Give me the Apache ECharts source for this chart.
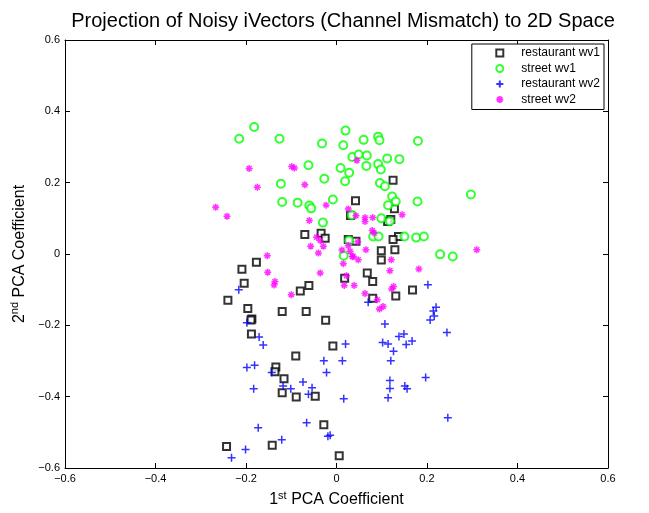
<!DOCTYPE html>
<html>
<head>
    <meta charset="utf-8">
    <script src="https://cdn.jsdelivr.net/npm/echarts@6/dist/echarts.min.js"></script>
</head>
<body style="margin:0">
    <div id="main" style="width: 649px; height: 513px"></div>
    <script type="text/javascript">
        var seriesNames = ['restaurant wv1', 'street wv1', 'restaurant wv2', 'street wv2'];
        var axisTicks = [-0.6, -0.4, -0.2, 0, 0.2, 0.4, 0.6];

        var restaurantWv1 = [
            [-0.070, 0.055], [-0.034, 0.058], [-0.025, 0.044], [0.125, 0.207], [0.042, 0.149],
            [0.128, 0.127], [0.031, 0.108], [0.120, 0.097], [0.113, 0.091], [0.026, 0.041],
            [0.043, 0.036], [0.137, 0.049], [0.125, 0.041], [0.099, 0.009], [0.129, 0.012],
            [-0.177, -0.023], [-0.209, -0.043], [-0.204, -0.082], [-0.240, -0.130], [-0.196, -0.153],
            [-0.120, -0.161], [-0.067, -0.161], [-0.061, -0.088], [-0.080, -0.104], [-0.187, -0.182],
            [-0.189, -0.185], [-0.024, -0.186], [-0.188, -0.224], [-0.090, -0.286], [-0.134, -0.317],
            [-0.136, -0.330], [-0.116, -0.350], [-0.120, -0.389], [-0.089, -0.401], [-0.047, -0.399],
            [-0.028, -0.479], [-0.243, -0.540], [-0.142, -0.536], [-0.008, -0.258], [0.099, -0.017],
            [0.068, -0.053], [0.018, -0.068], [0.080, -0.077], [0.168, -0.101], [0.131, -0.118],
            [0.080, -0.124], [0.006, -0.566]
        ];

        var streetWv1 = [
            [-0.182, 0.356], [-0.215, 0.323], [-0.126, 0.323], [-0.032, 0.310], [-0.062, 0.249],
            [-0.027, 0.211], [-0.123, 0.197], [-0.120, 0.146], [-0.086, 0.144], [-0.060, 0.136],
            [-0.056, 0.128], [-0.030, 0.088], [0.020, 0.346], [0.015, 0.305], [0.060, 0.320],
            [0.092, 0.329], [0.095, 0.319], [0.180, 0.317], [0.035, 0.272], [0.049, 0.279],
            [0.067, 0.276], [0.112, 0.268], [0.139, 0.266], [0.009, 0.241], [0.028, 0.228],
            [0.066, 0.247], [0.092, 0.252], [0.098, 0.237], [0.019, 0.204], [0.096, 0.199],
            [0.107, 0.190], [0.297, 0.167], [-0.008, 0.153], [0.123, 0.161], [0.131, 0.147],
            [0.114, 0.137], [0.179, 0.147], [0.034, 0.109], [0.099, 0.100], [0.118, 0.092],
            [0.081, 0.049], [0.093, 0.049], [0.150, 0.049], [0.176, 0.046], [0.193, 0.049],
            [0.229, -0.001], [0.257, -0.007], [0.028, 0.038], [0.016, -0.005]
        ];

        var restaurantWv2 = [
            [-0.216, -0.100], [-0.198, -0.193], [-0.171, -0.233], [-0.162, -0.255], [-0.198, -0.318],
            [-0.181, -0.312], [-0.143, -0.332], [-0.183, -0.378], [-0.118, -0.370], [-0.101, -0.378],
            [-0.074, -0.359], [-0.054, -0.375], [-0.062, -0.393], [-0.028, -0.299], [-0.022, -0.332],
            [-0.173, -0.487], [-0.066, -0.473], [-0.121, -0.521], [-0.201, -0.548], [-0.232, -0.571],
            [-0.019, -0.511], [-0.014, -0.508], [0.202, -0.086], [0.220, -0.149], [0.214, -0.160],
            [0.216, -0.174], [0.207, -0.185], [0.244, -0.220], [0.070, -0.135], [0.107, -0.196],
            [0.149, -0.224], [0.138, -0.231], [0.167, -0.244], [0.154, -0.254], [0.102, -0.248],
            [0.114, -0.252], [0.020, -0.252], [0.126, -0.273], [0.120, -0.299], [0.013, -0.299],
            [0.197, -0.346], [0.118, -0.355], [0.118, -0.377], [0.151, -0.370], [0.156, -0.378],
            [0.114, -0.403], [0.016, -0.406], [0.246, -0.459]
        ];

        var streetWv2 = [
            [-0.193, 0.240], [-0.099, 0.245], [-0.093, 0.241], [-0.175, 0.187], [-0.070, 0.194],
            [-0.267, 0.131], [-0.242, 0.106], [-0.023, 0.137], [-0.060, 0.094], [-0.153, -0.005],
            [-0.044, 0.047], [-0.036, 0.038], [-0.029, 0.022], [-0.057, 0.022], [-0.040, 0.003],
            [0.045, 0.263], [0.026, 0.126], [0.043, 0.107], [0.063, 0.102], [0.080, 0.102],
            [0.063, 0.091], [0.145, 0.110], [0.079, 0.066], [0.083, 0.059], [0.047, 0.034],
            [0.065, 0.012], [0.310, 0.012], [0.012, 0.011], [0.026, 0.024], [0.030, 0.008],
            [0.037, -0.006], [-0.152, -0.051], [-0.136, -0.077], [-0.138, -0.087], [-0.100, -0.114],
            [-0.036, -0.053], [0.035, -0.008], [0.048, -0.016], [0.015, -0.027], [0.121, -0.016],
            [0.182, -0.042], [0.118, -0.047], [0.022, -0.061], [0.017, -0.088], [0.039, -0.088],
            [0.126, -0.091], [0.122, -0.098], [0.063, -0.111], [0.090, -0.128], [0.103, -0.147],
            [0.095, -0.154]
        ];

        var plusPath = 'path://M5,0 L5,10 M0,5 L10,5';
        var starPath = 'path://M5,0 L5,10 M0,5 L10,5 M1.5,1.5 L8.5,8.5 M1.5,8.5 L8.5,1.5';
        var font = 'Liberation Sans, Arial, sans-serif';

        function tickText(v) {
            return String(v).replace('-', '\u2212');
        }

        function axisBase(pos, showLabel) {
            return {
                type: 'value',
                position: pos,
                min: axisTicks[0],
                max: axisTicks[axisTicks.length - 1],
                interval: 0.2,
                splitLine: { show: false },
                axisLine: { show: true, onZero: false, lineStyle: { color: '#000', width: 1 } },
                axisTick: { show: true, inside: true, length: 5, lineStyle: { color: '#000' } },
                axisLabel: {
                    show: showLabel, color: '#000', fontSize: 11, fontFamily: font, margin: 5,
                    formatter: tickText
                }
            };
        }

        var xBottom = axisBase('bottom', true);
        xBottom.name = '{a|1}{s|st}{a| PCA Coefficient}';
        xBottom.nameLocation = 'middle';
        xBottom.nameGap = 22;
        xBottom.nameTextStyle = {
            rich: {
                a: { fontSize: 16, fontFamily: font, color: '#000', verticalAlign: 'bottom', lineHeight: 18 },
                s: { fontSize: 11, fontFamily: font, color: '#000', verticalAlign: 'top', lineHeight: 18 }
            }
        };
        var xTop = axisBase('top', false);
        var yLeft = axisBase('left', true);
        yLeft.name = '{a|2}{s|nd}{a| PCA Coefficient}';
        yLeft.nameLocation = 'middle';
        yLeft.nameGap = 30;
        yLeft.nameTextStyle = xBottom.nameTextStyle;
        var yRight = axisBase('right', false);

        var myChart = echarts.init(document.getElementById('main'));
        option = {
            backgroundColor: '#fff',
            animation: false,
            title: {
                text: 'Projection of Noisy iVectors (Channel Mismatch) to 2D Space',
                left: 338,
                textAlign: 'center',
                top: 6,
                textStyle: { fontSize: 20, fontWeight: 'normal', fontFamily: font, color: '#000' }
            },
            grid: { left: 65, top: 40, right: 41, bottom: 39, containLabel: false },
            legend: {
                orient: 'vertical',
                right: 45,
                top: 44,
                padding: [3, 4, 4, 22],
                itemGap: 3.5,
                itemWidth: 7,
                itemHeight: 7,
                borderColor: '#000',
                borderWidth: 1,
                backgroundColor: '#fff',
                textStyle: { fontSize: 12, fontFamily: font, color: '#000', padding: [0, 0, 0, 13] },
                data: seriesNames
            },
            xAxis: [xBottom, xTop],
            yAxis: [yLeft, yRight],
            series: [
                {
                    name: seriesNames[0], type: 'scatter', symbol: 'emptyRect', symbolSize: 7,
                    itemStyle: { color: '#000', borderColor: '#000', borderWidth: 1.5 },
                    data: restaurantWv1
                },
                {
                    name: seriesNames[1], type: 'scatter', symbol: 'emptyCircle', symbolSize: 8,
                    itemStyle: { color: '#00ff00', borderColor: '#00ff00', borderWidth: 1.5 },
                    data: streetWv1
                },
                {
                    name: seriesNames[2], type: 'scatter', symbol: plusPath, symbolSize: 8,
                    itemStyle: { color: 'none', borderColor: '#0000ff', borderWidth: 1.5 },
                    data: restaurantWv2
                },
                {
                    name: seriesNames[3], type: 'scatter', symbol: starPath, symbolSize: 7,
                    itemStyle: { color: 'none', borderColor: '#ff00ff', borderWidth: 1.5 },
                    data: streetWv2
                }
            ]
        };
        myChart.setOption(option);
    </script>
</body>
</html>
